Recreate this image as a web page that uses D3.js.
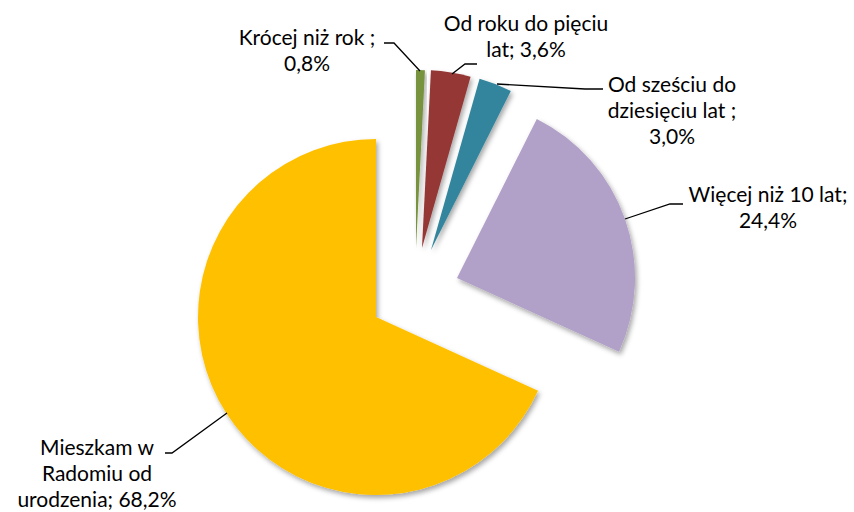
<!DOCTYPE html>
<html>
<head>
<meta charset="utf-8">
<script src="https://cdn.jsdelivr.net/npm/d3@7"></script>
<style>
  body { margin: 0; background: #fff; }
  svg { display: block; }
  text { font-family: Lato, "Open Sans", sans-serif; fill: #000; }
</style>
</head>
<body>
<svg id="chart"></svg>
<script>
// data
let categories = ["Krócej niż rok", "Od roku do pięciu lat", "Od sześciu do dziesięciu lat", "Więcej niż 10 lat", "Mieszkam w Radomiu od urodzenia"];
let values = [0.8, 3.6, 3.0, 24.4, 68.2];
let colors = ["#77933C", "#953735", "#31859C", "#B1A0C7", "#FFC000"];
// label lines as they are broken in the chart, {v} = value
let labelLines = [
    ["Krócej niż rok ;", "{v}"],
    ["Od roku do pięciu", "lat; {v}"],
    ["Od sześciu do", "dziesięciu lat ;", "{v}"],
    ["Więcej niż 10 lat;", "{v}"],
    ["Mieszkam w", "Radomiu od", "urodzenia; {v}"]
];

let width = 854;
let height = 512;
let radius = 178;
let cx = 376, cy = 317;

// how far each slice is pulled out of the pie (dx, dy)
let sliceShift = [[40, -69], [46, -69], [55, -67], [81, -39], [0, 0]];

// label anchor (center x, first baseline y) and leader polyline
let labelPos = [[307, 45], [526, 31], [672, 92], [768, 202], [97, 455]];
let leaders = [
    [[384, 43], [394, 43], [420, 71]],
    [[477, 64], [465, 64], [452, 74]],
    [[603, 89], [585, 89], [497, 84]],
    [[683, 204], [670, 204], [625, 219]],
    [[165, 453], [172, 453], [227, 413]]
];

let fmt = (v) => d3.format(".1f")(v).replace(".", ",") + "%";

let svg = d3.select("#chart")
    .attr("width", width)
    .attr("height", height);

let defs = svg.append("defs");
defs.append("filter")
    .attr("id", "shadow")
    .attr("x", "-20%").attr("y", "-20%")
    .attr("width", "140%").attr("height", "140%")
    .append("feDropShadow")
    .attr("dx", 2).attr("dy", 3)
    .attr("stdDeviation", 2.5)
    .attr("flood-color", "#000")
    .attr("flood-opacity", 0.35);

let pie = d3.pie().sort(null).value((d) => d);
let arc = d3.arc().innerRadius(0).outerRadius(radius);

svg.append("g")
    .selectAll("path")
    .data(pie(values))
    .enter()
    .append("path")
    .attr("d", arc)
    .attr("fill", (d, i) => colors[i])
    .attr("filter", "url(#shadow)")
    .attr("transform", (d, i) => "translate(" + (cx + sliceShift[i][0]) + "," + (cy + sliceShift[i][1]) + ")");

// leader lines
svg.append("g")
    .selectAll("polyline")
    .data(leaders)
    .enter()
    .append("polyline")
    .attr("points", (d) => d.map((p) => p.join(",")).join(" "))
    .attr("fill", "none")
    .attr("stroke", "#000")
    .attr("stroke-width", 1.3);

// labels
let labels = svg.append("g")
    .selectAll("text")
    .data(values)
    .enter()
    .append("text")
    .attr("text-anchor", "middle")
    .attr("font-size", 21)
    .attr("x", (d, i) => labelPos[i][0])
    .attr("y", (d, i) => labelPos[i][1]);

labels.each(function (d, i) {
    let t = d3.select(this);
    labelLines[i].forEach((line, j) => {
        t.append("tspan")
            .attr("x", labelPos[i][0])
            .attr("dy", j == 0 ? 0 : 26)
            .text(line.replace("{v}", fmt(d)));
    });
});
</script>
</body>
</html>
